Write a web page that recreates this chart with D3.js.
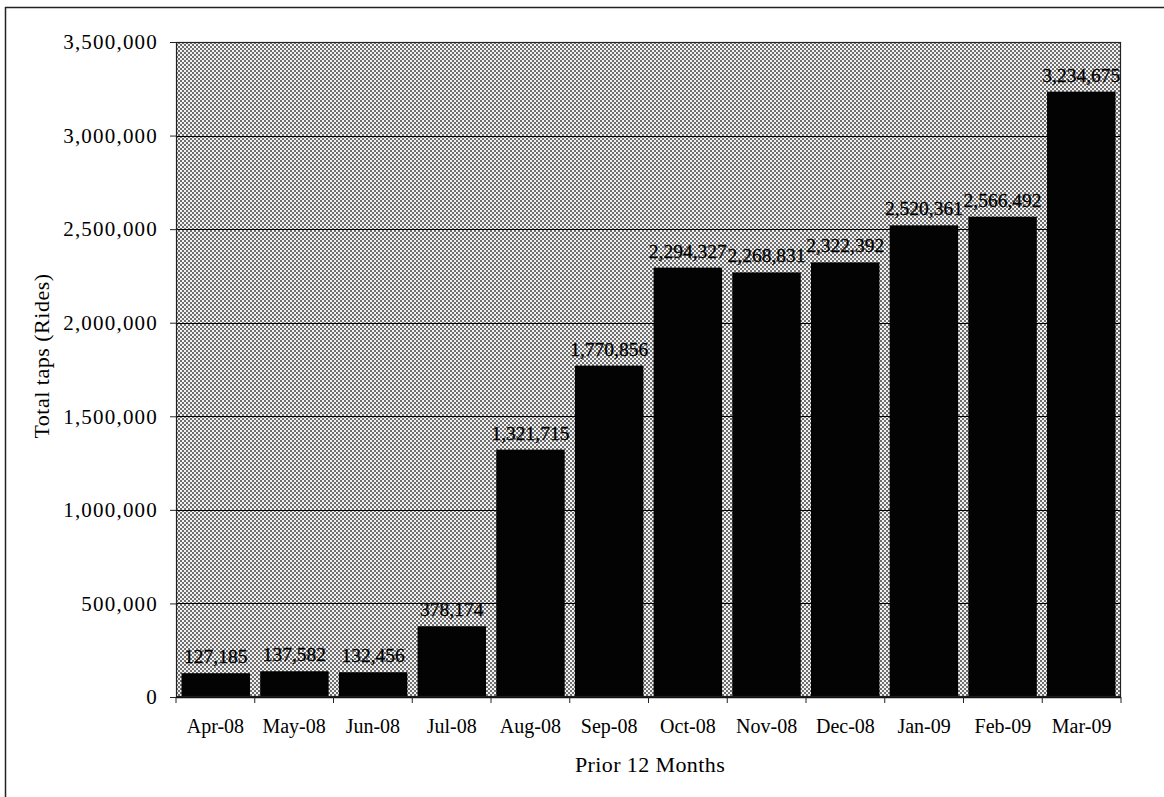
<!DOCTYPE html>
<html>
<head>
<meta charset="utf-8">
<script src="https://cdn.jsdelivr.net/npm/d3@7"></script>
<style>
  html, body { margin: 0; padding: 0; background: #fff; }
  svg { display: block; }
  text { font-family: "Liberation Serif", "Times New Roman", serif; fill: #000; }
</style>
</head>
<body>
<svg id="chart" width="1164" height="797"></svg>
<script>
// Monthly total taps (rides), prior 12 months
const months = ["Apr-08", "May-08", "Jun-08", "Jul-08", "Aug-08", "Sep-08",
                "Oct-08", "Nov-08", "Dec-08", "Jan-09", "Feb-09", "Mar-09"];
const rides = [127185, 137582, 132456, 378174, 1321715, 1770856,
               2294327, 2268831, 2322392, 2520361, 2566492, 3234675];
const yTicks = [0, 500000, 1000000, 1500000, 2000000, 2500000, 3000000, 3500000];

const svg = d3.select("#chart");
const W = 1164, H = 797;
const plot = { left: 176, top: 42, right: 1121, bottom: 697 };

// outer frame (top and left edges)
svg.append("line").attr("x1", 5).attr("x2", W).attr("y1", 7.5).attr("y2", 7.5)
  .attr("stroke", "#222").attr("stroke-width", 1.5);
svg.append("line").attr("x1", 5.5).attr("x2", 5.5).attr("y1", 7).attr("y2", H)
  .attr("stroke", "#222").attr("stroke-width", 1.5);

// halftone-like grey fill for the plot area
const defs = svg.append("defs");
const pat = defs.append("pattern").attr("id", "halftone")
  .attr("patternUnits", "userSpaceOnUse").attr("width", 4).attr("height", 4);
pat.append("rect").attr("width", 4).attr("height", 4).attr("fill", "#f2f2f2");
pat.append("rect").attr("x", 0).attr("y", 0).attr("width", 2).attr("height", 2).attr("fill", "#6e6e6e");
pat.append("rect").attr("x", 2).attr("y", 2).attr("width", 2).attr("height", 2).attr("fill", "#6e6e6e");

const x = d3.scaleBand().domain(months).range([plot.left, plot.right])
  .paddingInner(0.13).paddingOuter(0.07);
const xEdge = d3.scaleBand().domain(months).range([plot.left, plot.right]).padding(0);
const y = d3.scaleLinear().domain([0, 3500000]).range([plot.bottom, plot.top]);

svg.append("rect")
  .attr("x", plot.left).attr("y", plot.top)
  .attr("width", plot.right - plot.left).attr("height", plot.bottom - plot.top)
  .attr("fill", "url(#halftone)");

// horizontal gridlines
svg.append("g").selectAll("line").data(yTicks.slice(1, -1)).join("line")
  .attr("x1", plot.left).attr("x2", plot.right)
  .attr("y1", d => Math.round(y(d)) + 0.5).attr("y2", d => Math.round(y(d)) + 0.5)
  .attr("stroke", "#000").attr("stroke-width", 1.2);

// bars
svg.append("g").selectAll("rect").data(months).join("rect")
  .attr("x", (d, i) => x(d))
  .attr("width", x.bandwidth())
  .attr("y", (d, i) => y(rides[i]))
  .attr("height", (d, i) => y(0) - y(rides[i]))
  .attr("fill", "#030303");

// plot border
svg.append("rect")
  .attr("x", plot.left + 0.5).attr("y", plot.top + 0.5)
  .attr("width", plot.right - plot.left - 1).attr("height", plot.bottom - plot.top - 1)
  .attr("fill", "none").attr("stroke", "#222").attr("stroke-width", 1.2);

// value labels
const fmt = d3.format(",");
svg.append("g").selectAll("text").data(months).join("text")
  .attr("x", d => x(d) + x.bandwidth() / 2)
  .attr("y", (d, i) => y(rides[i]) - 10)
  .attr("text-anchor", "middle")
  .attr("font-size", 19.5)
  .attr("stroke", "#000").attr("stroke-width", 0.3)
  .text((d, i) => fmt(rides[i]));

// y axis
const yAxis = d3.axisLeft(y).tickValues(yTicks).tickFormat(fmt).tickSize(6).tickPadding(12);
const gy = svg.append("g").attr("transform", `translate(${plot.left},0)`).call(yAxis);
gy.select(".domain").remove();
gy.selectAll(".tick line").attr("stroke", "#222");
gy.selectAll(".tick text").attr("font-size", 21).attr("letter-spacing", 1.2)
  .attr("font-family", "Liberation Serif, serif").attr("fill", "#000");

// x axis with ticks on category boundaries
const gx = svg.append("g").attr("transform", `translate(0,${plot.bottom})`);
gx.append("line").attr("x1", plot.left).attr("x2", plot.right).attr("y1", 0.5).attr("y2", 0.5)
  .attr("stroke", "#111").attr("stroke-width", 1.5);
const edges = months.map(m => xEdge(m)).concat([plot.right]);
gx.selectAll("line.edge").data(edges).join("line").attr("class", "edge")
  .attr("x1", d => d).attr("x2", d => d).attr("y1", 0).attr("y2", 6)
  .attr("stroke", "#222");
gx.selectAll("text").data(months).join("text")
  .attr("x", d => xEdge(d) + xEdge.bandwidth() / 2)
  .attr("y", 36)
  .attr("text-anchor", "middle")
  .attr("font-size", 20)
  .text(d => d);

// axis titles
svg.append("text")
  .attr("transform", `translate(49,356) rotate(-90)`)
  .attr("text-anchor", "middle")
  .attr("font-size", 22).attr("letter-spacing", 0.5)
  .text("Total taps (Rides)");
svg.append("text")
  .attr("x", 650).attr("y", 772)
  .attr("text-anchor", "middle")
  .attr("font-size", 22).attr("letter-spacing", 0.4)
  .text("Prior 12 Months");
</script>
</body>
</html>
